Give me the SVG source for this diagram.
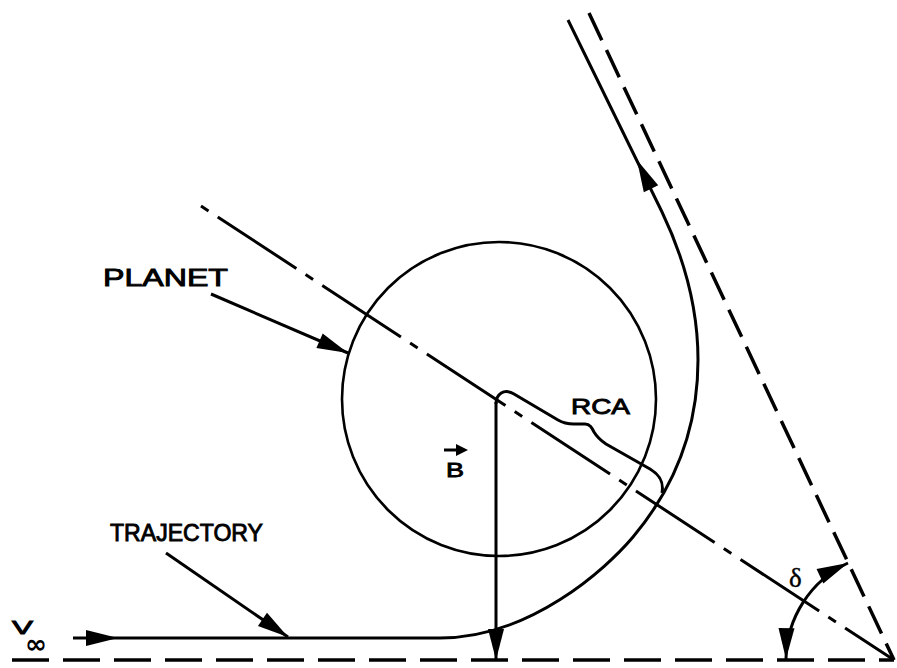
<svg xmlns="http://www.w3.org/2000/svg" width="897" height="668" viewBox="0 0 897 668">
<defs>
<marker id="ah" viewBox="-32 -10 34 20" markerWidth="34" markerHeight="20" refX="0" refY="0" markerUnits="userSpaceOnUse" orient="auto-start-reverse"><path d="M0,0 L-31,-8 L-31,8 Z" fill="#000"/></marker>
</defs>
<style>
.ln{fill:none;stroke:#000;stroke-width:3;}
.dash{fill:none;stroke:#000;stroke-width:3.5;}
.dd{fill:none;stroke:#000;stroke-width:3;stroke-dasharray:9 11 94 11;}
.lbl{font-family:"Liberation Sans",Arial,sans-serif;font-weight:normal;fill:#000;stroke:#000;stroke-width:0.9;}
.head{fill:#000;stroke:none;}
</style>
<rect width="897" height="668" fill="#fff"/>

<g id="reference-lines">
<path class="dash" d="M12,660 L894,660" stroke-dasharray="37 14"/>
<path class="dash" d="M589,13 L894,660" stroke-dasharray="30 11"/>
<path class="dd" d="M201,206 L894,660"/>
</g>

<g id="planet">
<circle cx="499" cy="399" r="157" fill="none" stroke="#000" stroke-width="2.6"/>
<text class="lbl" x="103" y="286" font-size="24" textLength="125" lengthAdjust="spacingAndGlyphs">PLANET</text>
</g>

<g id="trajectory">
<path class="ln" d="M568,20 L662,212 C684,258 698,310 698,360 C698,430 675,487 633,537 C606,569 530,638 440,638 L73,638"/>
<polygon class="head" points="637,160 658.2,185.3 643.8,192.3"/>
<polygon class="head" points="118,638 86,630 86,646"/>
<text class="lbl" x="110" y="541" font-size="24" textLength="153" lengthAdjust="spacingAndGlyphs">TRAJECTORY</text>
</g>

<g id="rca">
<path class="ln" d="M496,404 C496,394 504,388 514,394 L558,420 C563,423 568,424 574,424 L585,424 C590,424 592,428 594,432 C597,437 600,440 606,444 L650,469 C660,475 664,482 662,493"/>
<text class="lbl" x="571" y="414" font-size="22" textLength="59" lengthAdjust="spacingAndGlyphs">RCA</text>
</g>

<g id="b-vector">
<text class="lbl" x="446" y="477" font-size="21" textLength="18" lengthAdjust="spacingAndGlyphs">B</text>
<path d="M444,450 L458,450" fill="none" stroke="#000" stroke-width="3"/>
<polygon class="head" points="468,450 456,444 456,456"/>
</g>

<g id="v-infinity">
<text class="lbl" x="12" y="634" font-size="18" textLength="21" lengthAdjust="spacingAndGlyphs">V</text>
<text x="25" y="653" font-family="DejaVu Sans,sans-serif" font-weight="bold" font-size="26" textLength="22" lengthAdjust="spacingAndGlyphs">∞</text>
</g>

<g id="delta">
<text x="789" y="587" font-family="Liberation Serif,serif" font-size="27" stroke="#000" stroke-width="0.4">δ</text>
</g>

<g id="connectors">
<path class="ln" d="M211,294 L348,353" marker-end="url(#ah)"/>
<path class="ln" d="M166,553 L288,637" marker-end="url(#ah)"/>
<path class="ln" d="M496,402 L496,660" marker-end="url(#ah)"/>
<path class="ln" d="M786,659 A108,108 0 0 1 848,563" marker-start="url(#ah)" marker-end="url(#ah)"/>
</g>
</svg>
